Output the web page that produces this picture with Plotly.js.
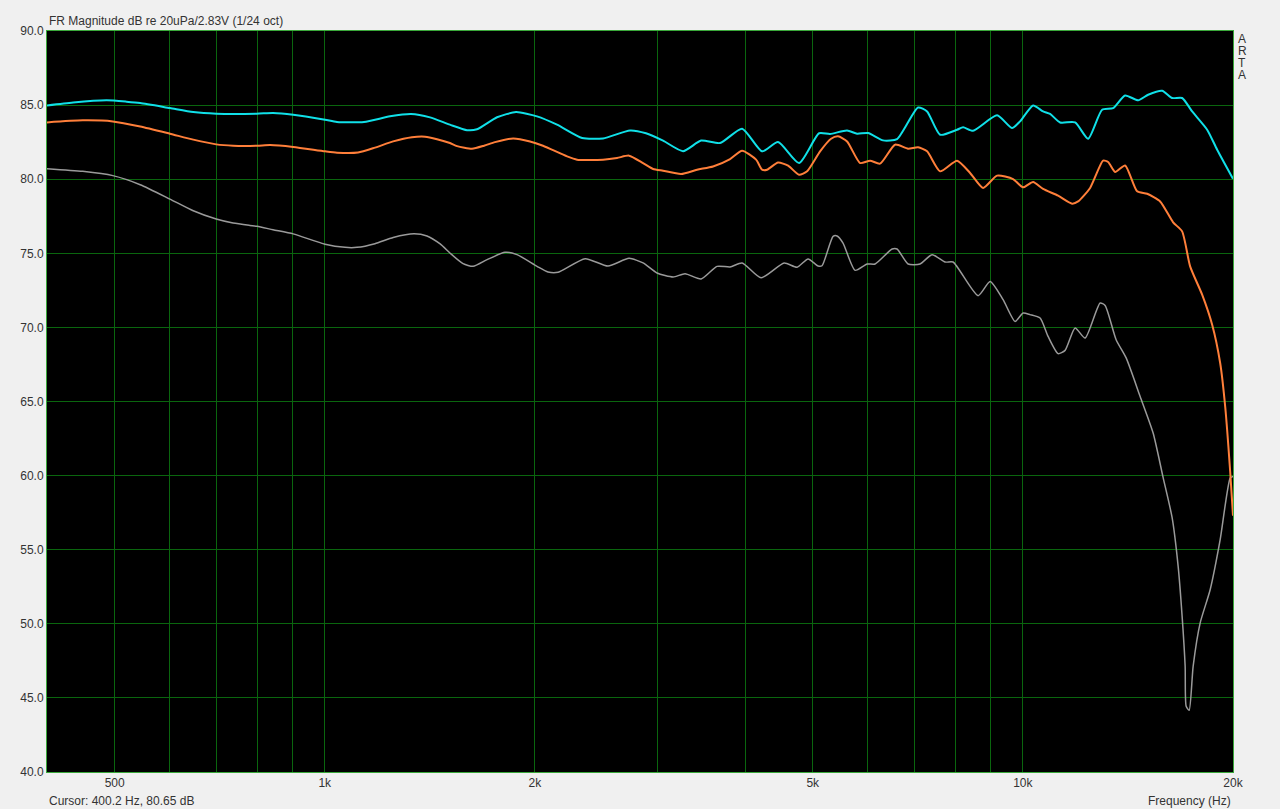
<!DOCTYPE html>
<html>
<head>
<meta charset="utf-8">
<script src="https://cdn.plot.ly/plotly-3.0.1.min.js"></script>
<style>
html,body{margin:0;padding:0;background:#f0f0f0;}
#chart{width:1280px;height:809px;}
</style>
</head>
<body>
<div id="chart"></div>
<script>
// Cyan curve (top)
var cyanFreq = [400,436,487,520,544,600,648,699,799,843,901,1001,1041,1138,1240,1329,1415,1511,1599,1652,1765,1879,2014,2151,2337,2504,2737,2885,3052,3260,3460,3683,3961,4231,4460,4780,5106,5294,5600,5788,6002,6306,6604,7078,7291,7611,8050,8211,8486,9185,9651,9909,10343,10690,10940,11307,11881,12402,12988,13468,14012,14626,15117,15831,16362,16910,17478,18365,18982,20000];
var cyanDb = [84.98,85.18,85.32,85.23,85.14,84.80,84.53,84.42,84.42,84.47,84.35,84.01,83.86,83.86,84.24,84.40,84.17,83.68,83.31,83.37,84.18,84.53,84.24,83.68,82.78,82.75,83.29,83.10,82.60,81.89,82.61,82.44,83.41,81.88,82.51,81.09,83.10,83.05,83.29,83.07,83.12,82.62,82.71,84.84,84.57,83.00,83.34,83.50,83.27,84.31,83.45,83.90,84.98,84.57,84.40,83.83,83.83,82.73,84.69,84.80,85.65,85.32,85.70,85.97,85.48,85.48,84.57,83.34,81.99,80.03];

// Orange curve (middle)
var orangeFreq = [400,450,497,544,600,648,699,739,800,835,901,1001,1041,1116,1180,1253,1333,1392,1448,1511,1547,1625,1691,1753,1861,1968,2054,2224,2298,2504,2622,2728,2857,2953,3052,3239,3414,3599,3807,3961,4148,4231,4301,4460,4610,4780,4908,5123,5312,5436,5600,5846,6042,6244,6561,6848,7078,7291,7611,8050,8403,8770,9185,9683,10008,10343,10690,11232,11764,12000,12484,13031,13248,13558,14012,14578,15068,15727,16416,16910,17363,18065,18672,19171,19490,19816,20000];
var orangeDb = [83.83,83.97,83.90,83.56,83.07,82.67,82.35,82.26,82.26,82.31,82.18,81.88,81.79,81.80,82.13,82.55,82.83,82.87,82.70,82.44,82.23,82.06,82.26,82.50,82.75,82.55,82.26,81.54,81.32,81.32,81.43,81.59,81.09,80.69,80.57,80.35,80.64,80.86,81.36,81.92,81.32,80.64,80.64,81.13,80.91,80.30,80.53,81.88,82.73,82.89,82.55,81.09,81.25,81.05,82.33,82.06,82.15,81.88,80.53,81.25,80.42,79.41,80.24,80.01,79.45,79.81,79.34,78.89,78.35,78.50,79.41,81.25,81.16,80.49,80.93,79.18,79.02,78.50,77.09,76.48,74.12,72.21,70.18,67.60,64.67,60.26,57.29];

// Gray curve (bottom)
var grayFreq = [400,450,497,544,600,648,699,739,781,800,843,901,1001,1069,1112,1180,1253,1342,1401,1463,1511,1578,1631,1708,1812,1885,2014,2088,2159,2360,2545,2728,2857,2992,3155,3282,3460,3647,3807,3961,4217,4550,4748,4924,5089,5156,5347,5418,5526,5750,5983,6143,6496,6604,6848,7124,7413,7738,7944,8627,8976,9369,9747,10008,10241,10585,10868,11232,11495,11881,12279,12902,13117,13602,14059,14723,15368,15884,16362,16690,16910,17080,17137,17306,17536,17945,18548,19171,19816,20000];
var grayDb = [80.71,80.53,80.24,79.63,78.66,77.87,77.31,77.04,76.88,76.82,76.59,76.31,75.61,75.40,75.40,75.65,76.07,76.32,76.17,75.63,75.02,74.30,74.12,74.57,75.07,74.91,74.12,73.74,73.72,74.64,74.14,74.66,74.35,73.67,73.40,73.62,73.27,74.12,74.08,74.35,73.35,74.35,74.06,74.62,74.14,74.16,76.14,76.17,75.69,73.85,74.28,74.28,75.29,75.29,74.28,74.28,74.91,74.41,74.41,72.14,73.10,71.87,70.40,70.97,70.86,70.63,69.39,68.23,68.45,69.96,69.28,71.65,71.48,69.17,67.94,65.34,62.87,59.86,57.16,53.87,50.50,47.13,44.43,44.16,47.13,50.05,52.30,55.68,59.84,59.95];

// Axis ticks
var xTickVals = [500,600,700,800,900,1000,2000,3000,4000,5000,6000,7000,8000,9000,10000,20000];
var xTickText = ['500','','','','','1k','2k','','','5k','','','','','10k','20k'];
var yTickVals = [40,45,50,55,60,65,70,75,80,85,90];
var brandLetters = ['A','R','T','A'];

var traces = [
  {x: grayFreq, y: grayDb, type: 'scatter', mode: 'lines', line: {color: '#9a9a9a', width: 1.5, shape: 'spline', smoothing: 0.6}, hoverinfo: 'skip'},
  {x: orangeFreq, y: orangeDb, type: 'scatter', mode: 'lines', line: {color: '#ff7f3a', width: 2, shape: 'spline', smoothing: 0.6}, hoverinfo: 'skip'},
  {x: cyanFreq, y: cyanDb, type: 'scatter', mode: 'lines', line: {color: '#10e0e8', width: 2, shape: 'spline', smoothing: 0.6}, hoverinfo: 'skip'}
];

var txtFont = {family: 'Liberation Sans, Arial, sans-serif', size: 12, color: '#333333'};

var annotations = [
  {text: 'FR Magnitude dB re 20uPa/2.83V (1/24 oct)', xref: 'paper', yref: 'paper', x: 0, y: 1, xanchor: 'left', yanchor: 'bottom', yshift: 1, showarrow: false, font: txtFont},
  {text: 'Cursor: 400.2 Hz, 80.65 dB', xref: 'paper', yref: 'paper', x: 0, y: 0, xanchor: 'left', yanchor: 'top', yshift: -20, showarrow: false, font: txtFont},
  {text: 'Frequency (Hz)', xref: 'paper', yref: 'paper', x: 1, y: 0, xanchor: 'right', yanchor: 'top', yshift: -20, showarrow: false, font: txtFont}
];
brandLetters.forEach(function (ch, i) {
  annotations.push({text: ch, xref: 'paper', yref: 'paper', x: 1, y: 1, xanchor: 'left', yanchor: 'top', xshift: 3, yshift: 1 - i * 12, showarrow: false, font: txtFont});
});

var layout = {
  width: 1280, height: 809,
  paper_bgcolor: '#f0f0f0',
  plot_bgcolor: '#000000',
  showlegend: false,
  margin: {l: 47, r: 47, t: 31, b: 37, pad: 0},
  xaxis: {
    type: 'log',
    range: [Math.log10(400), Math.log10(20000)],
    tickvals: xTickVals, ticktext: xTickText,
    showgrid: true, gridcolor: '#0a660e', gridwidth: 1,
    showline: true, linecolor: '#3aa83a', linewidth: 1, mirror: true,
    ticks: '', tickfont: txtFont, zeroline: false, fixedrange: true
  },
  yaxis: {
    range: [40, 90],
    tickvals: yTickVals, tickformat: '.1f',
    showgrid: true, gridcolor: '#0a660e', gridwidth: 1,
    showline: true, linecolor: '#3aa83a', linewidth: 1, mirror: true,
    ticks: '', tickfont: txtFont, zeroline: false, fixedrange: true
  },
  annotations: annotations
};

Plotly.newPlot('chart', traces, layout, {displayModeBar: false, staticPlot: true});
</script>
</body>
</html>
